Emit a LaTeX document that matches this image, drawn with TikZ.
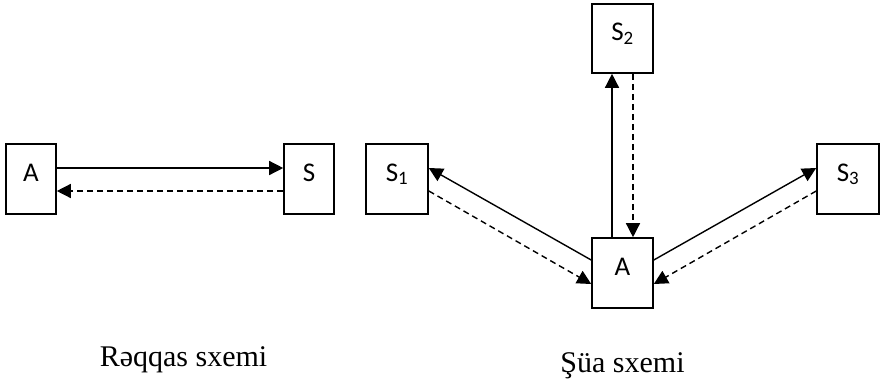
\documentclass[tikz,border=0pt]{standalone}
\usepackage{fontspec}
\setmainfont{Liberation Serif}
\newfontfamily\boxfont{Carlito}
\usetikzlibrary{arrows.meta}
\tikzset{
  box/.style={draw, line width=1.6pt, rectangle, inner sep=0pt,
    minimum height=70pt, text height=18pt, text depth=14pt,
    font=\boxfont\fontsize{27}{29}\selectfont},
  narrow/.style={box, minimum width=50pt},
  wide/.style={box, minimum width=62pt},
  solidarrow/.style={line width=1.4pt, -{Triangle[length=14pt,width=14pt]}},
  dasharrow/.style={line width=1.4pt, dash pattern=on 6pt off 4pt, -{Triangle[length=14pt,width=14pt]}},
  caption/.style={anchor=base, font=\fontsize{30}{34}\selectfont, inner sep=0pt}
}
\begin{document}
\begin{tikzpicture}[x=1pt, y=-1pt]
\useasboundingbox (0,0) rectangle (880,381);
% left diagram
\node[narrow] (a1) at (31,179) {A};
\node[narrow] (s) at (309,179) {S};
\draw[solidarrow] ([yshift=11pt]a1.east) -- ([yshift=11pt]s.west);
\draw[dasharrow] ([yshift=-12pt]s.west) -- ([yshift=-12pt]a1.east);
% right diagram
\node[wide] (s1) at (397,179) {S\textsubscript{1}};
\node[box, minimum width=61pt, minimum height=69pt] (s2) at (622.5,38.5) {S\textsubscript{2}};
\node[box, minimum width=61pt] (a2) at (622.5,273) {A};
\node[wide] (s3) at (848,179) {S\textsubscript{3}};
\draw[solidarrow] ([xshift=-10.5pt]a2.north) -- ([xshift=-10.5pt]s2.south);
\draw[dasharrow] ([xshift=10.5pt]s2.south) -- ([xshift=10.5pt]a2.north);
\draw[solidarrow] ([yshift=13pt]a2.west) -- ([yshift=11pt]s1.east);
\draw[dasharrow] ([yshift=-12pt]s1.east) -- ([yshift=-11pt]a2.west);
\draw[solidarrow] ([yshift=13pt]a2.east) -- ([yshift=11pt]s3.west);
\draw[dasharrow] ([yshift=-12pt]s3.west) -- ([yshift=-11pt]a2.east);
% captions
\node[caption] (c1) at (183.5,366) {Rəqqas sxemi};
\node[caption] (c2) at (622.5,372) {Şüa sxemi};
\end{tikzpicture}
\end{document}
